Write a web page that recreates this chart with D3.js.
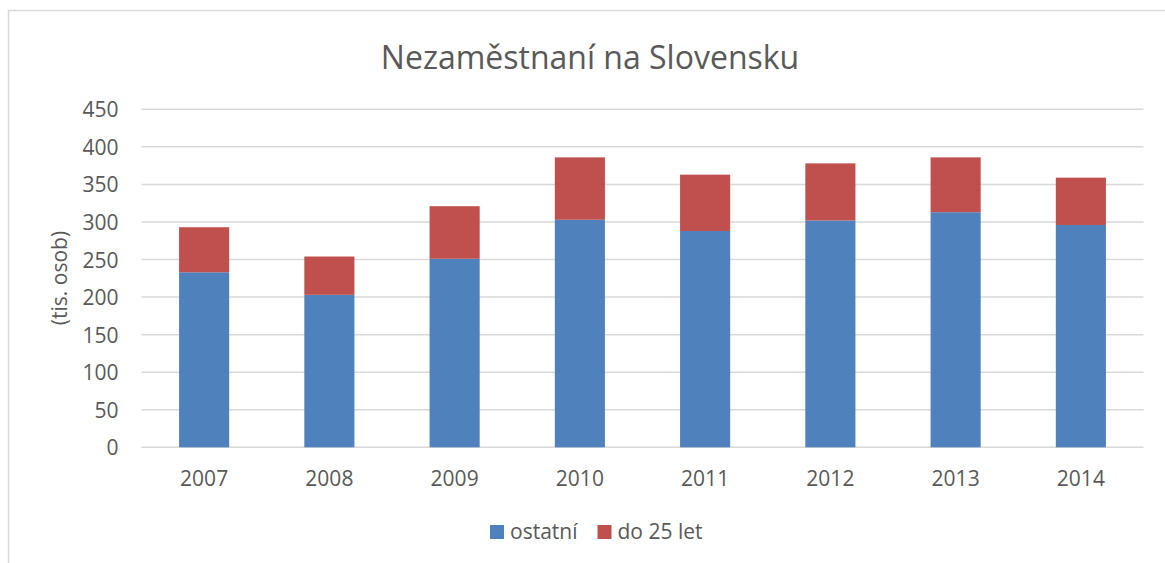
<!DOCTYPE html>
<html>
<head>
<meta charset="utf-8">
<script src="https://cdn.jsdelivr.net/npm/d3@7"></script>
<style>
  body { margin: 0; background: #fff; }
  svg { display: block; font-family: "Open Sans", sans-serif; }
</style>
</head>
<body>
<svg id="chart" width="1165" height="563"></svg>
<script>
// unemployment in Slovakia, thousands of people
const years = ["2007", "2008", "2009", "2010", "2011", "2012", "2013", "2014"];
const ostatni = [233, 203, 251, 303, 288, 302, 313, 296];
const do25 = [60, 51, 70, 83, 75, 76, 73, 63];
const yTicks = [0, 50, 100, 150, 200, 250, 300, 350, 400, 450];
const seriesNames = ["ostatní", "do 25 let"];
const colors = ["#4f81bd", "#c0504d"];

const svg = d3.select("#chart");
const textColor = "#595959";
const gridColor = "#d9d9d9";

const plot = { left: 141.5, right: 1143.5, top: 109.3, bottom: 447.3 };

// chart frame (cut off by window on right/bottom)
svg.append("rect")
    .attr("x", 8.5).attr("y", 10.5)
    .attr("width", 1200).attr("height", 600)
    .attr("fill", "none")
    .attr("stroke", gridColor)
    .attr("stroke-width", 1.5);

let table = years.map((y, i) => ({ year: y, "ostatní": ostatni[i], "do 25 let": do25[i] }));
let stacked = d3.stack().keys(seriesNames)(table);

let xScale = d3.scaleBand()
    .domain(years)
    .range([plot.left, plot.right])
    .paddingInner(0.6)
    .paddingOuter(0.3);

let yScale = d3.scaleLinear()
    .domain([0, 450])
    .range([plot.bottom, plot.top]);

// gridlines
svg.append("g")
    .selectAll("line")
    .data(yTicks)
    .join("line")
    .attr("x1", plot.left).attr("x2", plot.right)
    .attr("y1", d => yScale(d)).attr("y2", d => yScale(d))
    .attr("stroke", gridColor)
    .attr("stroke-width", 1.5);

// bars
svg.append("g")
    .selectAll("g")
    .data(stacked)
    .join("g")
    .attr("fill", (d, i) => colors[i])
    .selectAll("rect")
    .data(d => d)
    .join("rect")
    .attr("x", d => xScale(d.data.year))
    .attr("width", xScale.bandwidth())
    .attr("y", d => yScale(d[1]))
    .attr("height", d => yScale(d[0]) - yScale(d[1]));

// y axis labels
let yAxis = svg.append("g")
    .attr("transform", "translate(" + (plot.left - 23) + ",0)")
    .call(d3.axisLeft(yScale).tickValues(yTicks).tickSize(0).tickPadding(0));
yAxis.select(".domain").remove();
yAxis.selectAll("text")
    .attr("fill", textColor)
    .attr("font-size", 21)
    .attr("font-family", "Open Sans, sans-serif")
    .attr("dy", "0.36em");

// x axis labels
let xAxis = svg.append("g")
    .attr("transform", "translate(0," + plot.bottom + ")")
    .call(d3.axisBottom(xScale).tickSize(0).tickPadding(24));
xAxis.select(".domain").remove();
xAxis.selectAll("text")
    .attr("fill", textColor)
    .attr("font-size", 21)
    .attr("font-family", "Open Sans, sans-serif");

// title
svg.append("text")
    .attr("x", 590).attr("y", 69)
    .attr("text-anchor", "middle")
    .attr("fill", textColor)
    .attr("font-size", 32)
    .text("Nezaměstnaní na Slovensku");

// y axis title
svg.append("text")
    .attr("transform", "translate(67,278) rotate(-90)")
    .attr("text-anchor", "middle")
    .attr("fill", textColor)
    .attr("font-size", 21)
    .text("(tis. osob)");

// legend
let legendX = [490, 597.5];
let legend = svg.append("g")
    .selectAll("g")
    .data(seriesNames)
    .join("g")
    .attr("transform", (d, i) => "translate(" + legendX[i] + ",525)");
legend.append("rect")
    .attr("width", 14).attr("height", 14)
    .attr("fill", (d, i) => colors[i]);
legend.append("text")
    .attr("x", 20).attr("y", 14)
    .attr("fill", textColor)
    .attr("font-size", 21)
    .text(d => d);
</script>
</body>
</html>
